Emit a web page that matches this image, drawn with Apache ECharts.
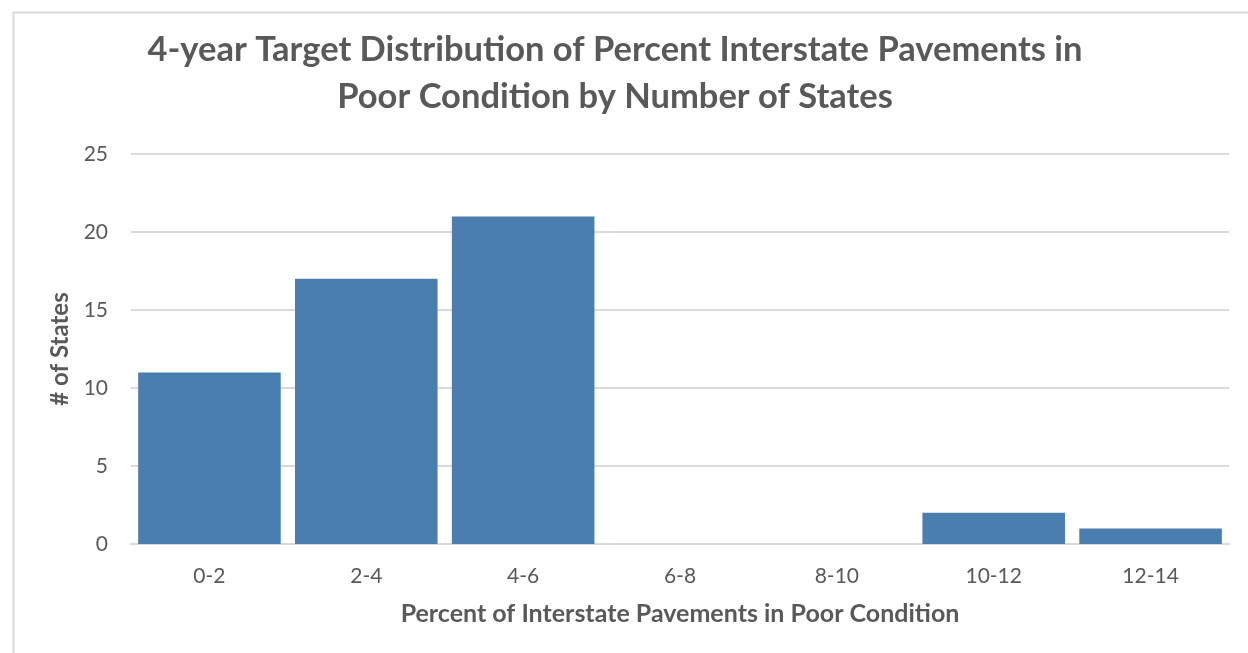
<!DOCTYPE html>
<html>
<head>
<meta charset="utf-8">
<script src="https://cdn.jsdelivr.net/npm/echarts@6/dist/echarts.min.js"></script>
<style>
  html, body { margin: 0; padding: 0; background: #ffffff; }
  #chart { width: 1248px; height: 653px; }
</style>
</head>
<body>
<div id="chart"></div>
<script>
// Percent ranges of interstate pavements in poor condition
const categories = ['0-2', '2-4', '4-6', '6-8', '8-10', '10-12', '12-14'];
// Number of states whose 4-year target falls in each range
const stateCounts = [11, 17, 21, 0, 0, 2, 1];
const yTicks = { min: 0, max: 25, interval: 5 };

const FONT = 'Lato, "Open Sans", sans-serif';
const TEXT = '#595959';

const chart = echarts.init(document.getElementById('chart'), null, { renderer: 'canvas' });
chart.setOption({
  animation: false,
  backgroundColor: '#ffffff',
  graphic: [{
    type: 'rect',
    left: 11, top: 10,
    shape: { width: 1400, height: 800 },
    style: { fill: 'none', stroke: '#d9d9d9', lineWidth: 2 },
    silent: true, z: -1
  }],
  title: {
    text: '4-year Target Distribution of Percent Interstate Pavements in\nPoor Condition by Number of States',
    left: 615, top: 26, padding: 0, textAlign: 'center',
    textStyle: { fontFamily: FONT, fontSize: 34.5, fontWeight: 'bold', color: TEXT, lineHeight: 47, align: 'center' }
  },
  grid: { left: 131, right: 19, top: 154, bottom: 109, containLabel: false },
  xAxis: {
    type: 'category',
    data: categories,
    name: 'Percent of Interstate Pavements in Poor Condition',
    nameLocation: 'middle',
    nameGap: 57,
    nameTextStyle: { fontFamily: FONT, fontSize: 25, fontWeight: 'bold', color: TEXT },
    axisLine: { lineStyle: { color: '#d9d9d9', width: 2 } },
    axisTick: { show: false },
    axisLabel: { fontFamily: FONT, fontSize: 21, color: TEXT, margin: 22 }
  },
  yAxis: {
    type: 'value',
    min: yTicks.min, max: yTicks.max, interval: yTicks.interval,
    name: '# of States',
    nameLocation: 'middle',
    nameGap: 57,
    nameTextStyle: { fontFamily: FONT, fontSize: 24, fontWeight: 'bold', color: TEXT },
    axisLine: { show: false },
    axisTick: { show: false },
    axisLabel: { fontFamily: FONT, fontSize: 21, color: TEXT, margin: 23 },
    splitLine: { lineStyle: { color: '#d9d9d9', width: 2 } }
  },
  series: [{
    type: 'bar',
    data: stateCounts,
    barCategoryGap: '9.1%',
    itemStyle: { color: '#4a7eb0' }
  }]
});
</script>
</body>
</html>
